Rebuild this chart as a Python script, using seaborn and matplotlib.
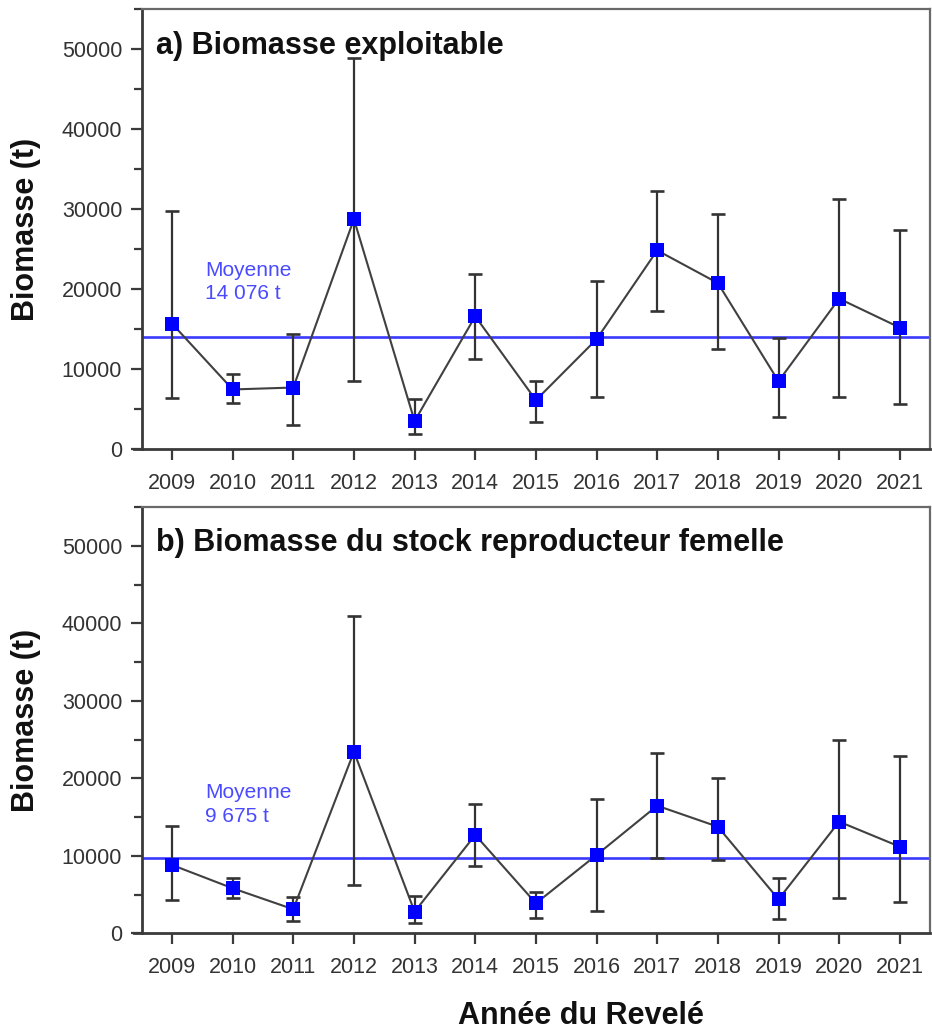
import numpy as np
import pandas as pd
import matplotlib
matplotlib.use("Agg")
import matplotlib.pyplot as plt
from matplotlib.ticker import MultipleLocator, FixedLocator
import seaborn as sns

# Survey years
years = [2009, 2010, 2011, 2012, 2013, 2014, 2015, 2016, 2017, 2018, 2019, 2020, 2021]

# a) Exploitable biomass (t) with lower / upper confidence limits
expl_biomass = [15700, 7460, 7700, 28770, 3500, 16610, 6120, 13740, 24860, 20770, 8490, 18820, 15200]
expl_low = [6330, 5790, 2960, 8530, 1830, 11240, 3330, 6530, 17240, 12490, 4040, 6460, 5580]
expl_high = [29770, 9450, 14400, 48930, 6250, 21950, 8530, 21020, 32270, 29440, 13900, 31350, 27350]
expl_mean = 14076

# b) Female spawning stock biomass (t) with lower / upper confidence limits
ssb_biomass = [8820, 5810, 3100, 23440, 2790, 12690, 3870, 10110, 16470, 13760, 4390, 14410, 11180]
ssb_low = [4300, 4520, 1590, 6230, 1290, 8730, 2010, 2920, 9760, 9460, 1810, 4520, 4000]
ssb_high = [13850, 7180, 4650, 41000, 4850, 16650, 5370, 17300, 23310, 20010, 7180, 24950, 22880]
ssb_mean = 9675

panel_titles = ["a) Biomasse exploitable", "b) Biomasse du stock reproducteur femelle"]
mean_labels = ["Moyenne\n14 076 t", "Moyenne\n9 675 t"]
y_label = "Biomasse (t)"
x_label = "Année du Revelé"

sns.set_theme(style="ticks")
plt.rcParams["font.family"] = ["Liberation Sans", "DejaVu Sans"]

fig = plt.figure(figsize=(9.32, 10.30), dpi=100)
ax_a = fig.add_axes([0.152, 0.564, 0.846, 0.4268])
ax_b = fig.add_axes([0.152, 0.0939, 0.846, 0.4136])

panels = [
    (ax_a, expl_biomass, expl_low, expl_high, expl_mean),
    (ax_b, ssb_biomass, ssb_low, ssb_high, ssb_mean),
]

frame_col = "#3a3a3a"
text_col = "#333333"

for i, (ax, vals, lo, hi, mean) in enumerate(panels):
    df = pd.DataFrame({"year": years, "biomass": vals})
    vals_a = np.array(vals)
    err = np.vstack([vals_a - np.array(lo), np.array(hi) - vals_a])

    ax.axhline(mean, color="#3a3aff", lw=1.9, zorder=1)
    ax.errorbar(years, vals, yerr=err, fmt="none", ecolor="#333333",
                elinewidth=1.6, capsize=4.8, capthick=1.9, zorder=2)
    sns.lineplot(data=df, x="year", y="biomass", ax=ax, color="#404040",
                 lw=1.5, marker="s", markersize=9.5, markerfacecolor="#0000ff",
                 markeredgecolor="#0000ff", markeredgewidth=0, zorder=3)

    ax.set_xlim(2008.5, 2021.5)
    ax.set_ylim(0, 55000)
    ax.xaxis.set_major_locator(FixedLocator(years))
    ax.set_xticklabels([str(y) for y in years])
    ax.yaxis.set_major_locator(MultipleLocator(10000))
    ax.yaxis.set_minor_locator(MultipleLocator(5000))
    ax.yaxis.set_major_formatter(matplotlib.ticker.FormatStrFormatter("%d"))

    ax.tick_params(axis="both", which="major", direction="out", length=8,
                   width=1.6, color=frame_col, labelsize=15.5,
                   labelcolor=text_col)
    ax.tick_params(axis="y", which="major", pad=6)
    ax.tick_params(axis="x", which="major", pad=9)
    ax.tick_params(axis="y", which="minor", direction="out", length=6,
                   width=1.6, color=frame_col)

    for side in ["left", "bottom"]:
        ax.spines[side].set_color(frame_col)
        ax.spines[side].set_linewidth(2.0)
    for side in ["top", "right"]:
        ax.spines[side].set_color("#6a6a6a")
        ax.spines[side].set_linewidth(1.6)
    ax.spines["bottom"].set_bounds(2008.5 - 8 / 60.8, 2021.5)

    ax.set_xlabel("")
    ax.set_ylabel(y_label, fontsize=22, fontweight="bold", color="#111111")
    ax.yaxis.set_label_coords(-0.128, 0.5)

    ax.text(0.018, 0.952, panel_titles[i], transform=ax.transAxes,
            fontsize=22, fontweight="bold", color="#111111",
            ha="left", va="top")
    ax.text(2009.55, mean + 4200, mean_labels[i], fontsize=15,
            color="#4a4aff", ha="left", va="bottom", linespacing=1.3)

ax_b.set_xlabel(x_label, fontsize=22, fontweight="bold", color="#111111")
ax_b.xaxis.set_label_coords(0.557, -0.158)

fig.savefig("out.png", dpi=100)
